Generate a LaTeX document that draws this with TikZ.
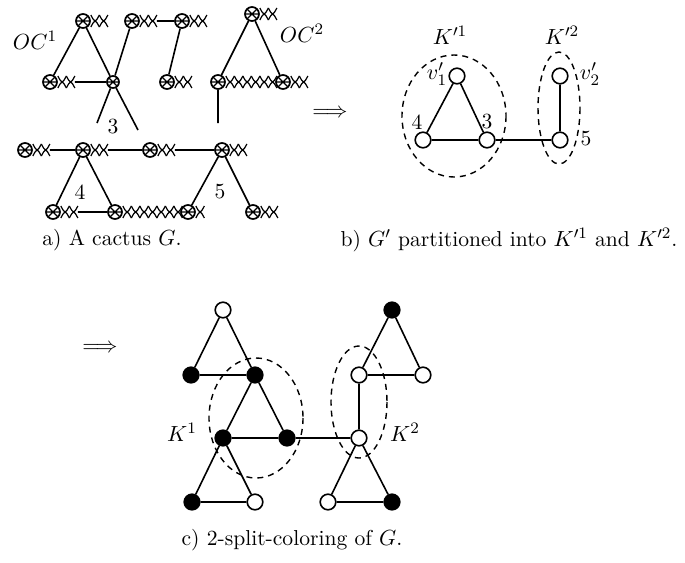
\documentclass[tikz,border=0pt]{standalone}
\usepackage{amsmath, amssymb}
\usetikzlibrary{calc}

\tikzset{
  hv/.style={circle, draw, line width=.85pt, minimum size=7pt, inner sep=0pt,
    path picture={\draw[line width=.55pt]
      (path picture bounding box.north west) -- (path picture bounding box.south east)
      (path picture bounding box.south west) -- (path picture bounding box.north east)
      (path picture bounding box.west) -- (path picture bounding box.east);}},
  lens/.style={line width=.6pt},
  wv/.style={circle, draw, line width=.8pt, minimum size=7.8pt, inner sep=0pt, fill=white},
  bv/.style={wv, fill=black},
  ln/.style={line width=.8pt},
  kset/.style={draw, line width=.7pt, dash pattern=on 3pt off 2.5pt},
  every node/.style={font=\fontsize{10.8}{13}\selectfont},
}

% chain of crossed lenses after a node: start node, units, end name
\newcommand{\lenschain}[3]{%
  \foreach \k in {1,...,#2}{
    \begin{scope}[shift={($(#1.east)+({(\k-1)*8.5},0)$)}]
      \draw[lens] (0,-6) .. controls (4.25,2) .. (8.5,-6);
      \draw[lens] (0,6) .. controls (4.25,-2) .. (8.5,6);
    \end{scope}
  }
  \coordinate (#3) at ($(#1.east)+({#2*8.5},0)$);
}

\begin{document}
\begin{tikzpicture}[x=.5pt, y=-.5pt]
\useasboundingbox (0,0) rectangle (685,562);

% a) the cactus
\node [hv] (a1) at (83,21) {};
\node [hv] (a2) at (132,21) {};
\node [hv] (a3) at (182,21) {};
\node [hv] (a4) at (252,14) {};
\node [hv] (b1) at (50,82) {};
\node [hv, minimum size=6pt] (n3) at (113,82) {};
\node [hv] (b2) at (167,82) {};
\node [hv] (b3) at (218,82) {};
\node [hv] (b4) at (283,82) {};
\node [hv] (c1) at (25,150) {};
\node [hv] (c2) at (83,150) {};
\node [hv] (c3) at (150,150) {};
\node [hv] (c4) at (222,150) {};
\node [hv] (d1) at (53,212) {};
\node [hv] (d2) at (115,212) {};
\node [hv] (d3) at (188,212) {};
\node [hv] (d4) at (253,212) {};
\lenschain{a1}{2}{a1e}
\lenschain{a2}{2}{a2e}
\lenschain{a3}{2}{a3e}
\lenschain{a4}{2}{a4e}
\lenschain{b1}{2}{b1e}
\lenschain{b2}{2}{b2e}
\lenschain{b3}{6}{b3e}
\lenschain{b4}{2}{b4e}
\lenschain{c1}{2}{c1e}
\lenschain{c2}{2}{c2e}
\lenschain{c3}{2}{c3e}
\lenschain{c4}{2}{c4e}
\lenschain{d1}{2}{d1e}
\lenschain{d2}{7}{d2e}
\lenschain{d3}{1}{d3e}
\lenschain{d4}{2}{d4e}
\coordinate (f1) at (97,123);
\coordinate (f2) at (138,130);
\coordinate (f3) at (218,123);
\draw [ln] (a1) -- (b1) (a1) -- (n3) (a2) -- (n3) (a3) -- (b2)
  (a2e) -- (a3) (b1e) -- (n3) (n3) -- (f1) (n3) -- (f2)
  (a4) -- (b3) (a4) -- (b4) (b3) -- (f3);
\draw [ln] (c1e) -- (c2) (c2e) -- (c3) (c3e) -- (c4)
  (c2) -- (d1) (c2) -- (d2) (d1e) -- (d2) (c4) -- (d3) (c4) -- (d4);
\node (oc1) at (35,40) {$OC^1$};
\node (oc2) at (302,33) {$OC^2$};
\node (l3) at (113,127) {3};
\node (l4) at (80,192) {4};
\node (l5) at (220,192) {5};
\node (capa) at (112,240) {a) A cactus $G$.};

\node (imp1) at (330,113) {$\Longrightarrow$};

% b) G'
\node [wv] (v1) at (457,76) {};
\node [wv] (w4) at (423,140) {};
\node [wv] (w3) at (487,140) {};
\node [wv] (v2) at (560,76) {};
\node [wv] (w5) at (560,140) {};
\draw [ln] (v1) -- (w4) -- (w3) -- (v1) (w3) -- (w5) -- (v2);
\draw [kset] (454,116) ellipse [x radius=52, y radius=61];
\draw [kset] (559,108) ellipse [x radius=21, y radius=56];
\node (kb1) at (450,35) {$K'^1$};
\node (kb2) at (562,35) {$K'^2$};
\node (lv1) at (437,74) {$v'_1$};
\node (lv2) at (590,74) {$v'_2$};
\node (lw4) at (417,122) {4};
\node (lw3) at (487,122) {3};
\node (lw5) at (586,139) {5};
\node (capb) at (509,240) {b) $G'$ partitioned into $K'^1$ and $K'^2$.};

\node (imp2) at (100,348) {$\Longrightarrow$};

% c) colouring
\node [wv] (t1) at (223,310) {};
\node [bv] (t2) at (191,375) {};
\node [bv] (t3) at (255,375) {};
\node [bv] (t4) at (223,438) {};
\node [bv] (t5) at (287,438) {};
\node [bv] (t6) at (192,502) {};
\node [wv] (t7) at (255,502) {};
\node [bv] (s1) at (392,310) {};
\node [wv] (s2) at (359,375) {};
\node [wv] (s3) at (423,375) {};
\node [wv] (s4) at (359,438) {};
\node [wv] (s5) at (328,502) {};
\node [bv] (s6) at (392,502) {};
\draw [ln] (t1) -- (t2) -- (t3) -- (t1) (t3) -- (t4) -- (t5) -- (t3)
  (t4) -- (t6) -- (t7) -- (t4) (t5) -- (s4)
  (s1) -- (s2) -- (s3) -- (s1) (s2) -- (s4) -- (s5) -- (s6) -- (s4);
\draw [kset] (256,418) ellipse [x radius=47, y radius=60];
\draw [kset] (359,402) ellipse [x radius=28, y radius=56];
\node (kc1) at (182,432) {$K^1$};
\node (kc2) at (405,432) {$K^2$};
\node (capc) at (292,540) {c) 2-split-coloring of $G$.};
\end{tikzpicture}
\end{document}
